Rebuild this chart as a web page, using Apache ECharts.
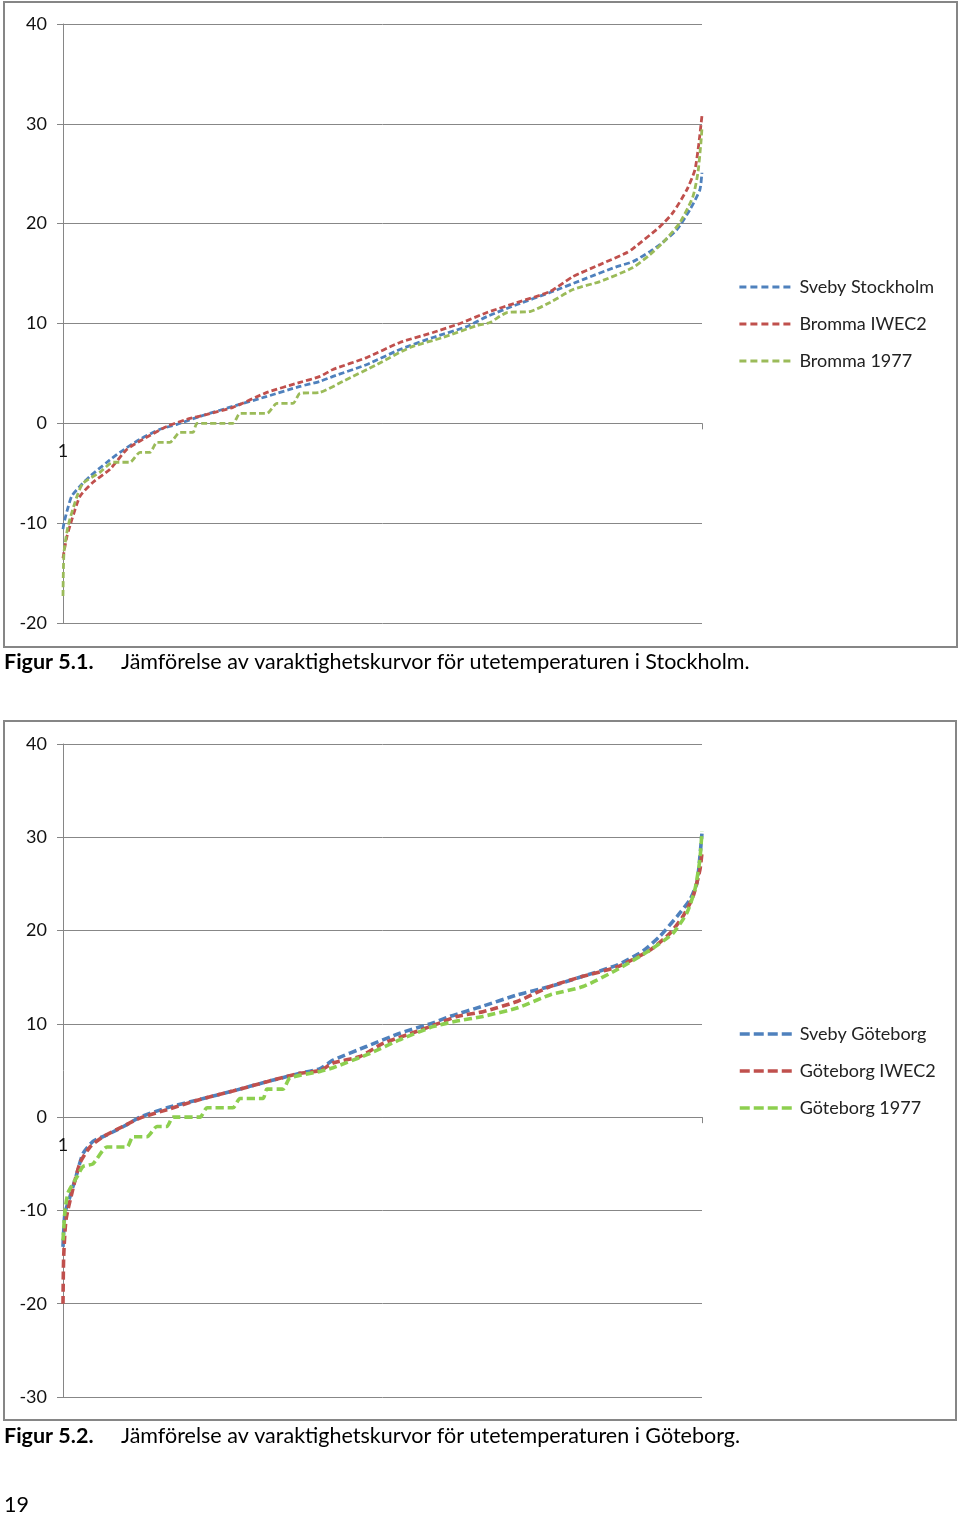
<!DOCTYPE html>
<html>
<head>
<meta charset="utf-8">
<script src="https://cdn.jsdelivr.net/npm/echarts@6/dist/echarts.min.js"></script>
<style>
html,body{margin:0;padding:0;background:#fff;}
#c{width:960px;height:1516px;}
</style>
</head>
<body>
<div id="c"></div>
<script>
// ---- Figur 5.1 Stockholm (hour of year, temperature °C) ----
const svebyStockholmHours = [1,14,52,120,234,371,604,782,1056,1330,1563,1879,2331,2797,3249,3524,3702,4168,4620,5072,5538,5812,6224,6676,7128,7594,7813,8046,8183,8416,8594,8731,8759];
const svebyStockholmTemp  = [-10.6,-10,-8.9,-7.3,-6.3,-5.3,-3.9,-2.9,-1.6,-0.6,-0.1,0.7,1.7,2.7,3.7,4.2,4.7,5.9,7.4,8.6,9.7,10.7,11.9,13.1,14.4,15.7,16.2,17.2,17.9,19.4,21.4,23.4,25.1];

const brommaIwec2Hours = [1,14,56,124,234,412,645,878,1097,1426,1700,1975,2331,2797,3249,3524,3702,4168,4620,5072,5442,5812,6224,6676,6991,7361,7731,7813,8183,8361,8553,8663,8718,8759];
const brommaIwec2Temp  = [-13.5,-12.9,-11.3,-9.6,-7.3,-5.9,-4.6,-2.6,-1.6,-0.3,0.4,0.9,1.6,3.1,4.1,4.7,5.4,6.6,8.1,9.1,10,11.1,12.1,13.2,14.7,15.9,17.1,17.5,19.7,21.1,23.4,25.4,28.1,30.8];

const bromma1977Hours = [1,14,70,193,275,508,686,919,1056,1193,1289,1467,1604,1783,1838,2331,2427,2797,2934,3154,3249,3524,3839,4305,4757,5209,5675,5853,6086,6402,6676,6991,7361,7813,8046,8224,8457,8635,8704,8745,8759];
const bromma1977Temp  = [-17.3,-13,-10.3,-7.3,-6,-4.9,-3.9,-3.9,-2.9,-2.9,-1.9,-1.9,-0.9,-0.9,0,0,1,1,2,2,3,3.1,4.2,5.9,7.6,8.6,9.8,10.1,11.1,11.2,12.1,13.4,14.2,15.6,16.9,18.1,20.1,22.7,25.1,28.1,29.5];

// ---- Figur 5.2 Göteborg ----
const svebyGoteborgHours = [1,28,97,193,275,412,604,878,1056,1426,1879,2331,2797,3249,3524,3702,4168,4620,5072,5305,5757,6224,6676,7128,7594,7950,8183,8416,8594,8690,8731,8759];
const svebyGoteborgTemp  = [-13.9,-10.3,-8.5,-6,-3.9,-2.6,-1.9,-0.8,0,1,1.9,2.8,3.8,4.7,5.2,6.1,7.6,9.0,10.1,10.8,11.9,13.1,14,15.1,16.3,17.8,19.4,21.5,23.3,25.1,27.9,30.4];

const goteborgIwec2Hours = [1,10,42,124,234,371,549,823,1056,1426,1879,2331,2797,3249,3524,3702,4072,4387,4853,5168,5401,5757,6224,6676,7128,7594,8046,8320,8498,8635,8731,8759];
const goteborgIwec2Temp  = [-20,-15,-11,-8.1,-4.9,-3.2,-2.1,-1.0,-0.1,0.8,1.9,2.8,3.8,4.7,5.0,5.8,6.5,7.9,9.2,10.1,10.8,11.3,12.4,14,15.1,16.1,17.9,19.7,21.5,23.6,26.5,28.3];

const goteborg1977Hours = [1,28,70,193,275,412,604,878,960,1152,1289,1426,1509,1879,1975,2331,2427,2742,2797,3016,3112,3524,3702,4168,4620,5072,5401,5757,6224,6676,7128,7594,8046,8361,8553,8663,8731,8759];
const goteborg1977Temp  = [-13.2,-10.1,-8.1,-6.4,-5.3,-5.0,-3.2,-3.2,-2.1,-2.1,-1.0,-1.0,0,0,1,1,2,2,3,3,4.2,4.9,5.3,6.7,8.3,9.7,10.3,10.8,11.7,13.1,14,15.8,17.9,19.7,21.9,24.4,27.6,30.6];

const yTicks1 = {min: -20, max: 40, interval: 10};
const yTicks2 = {min: -30, max: 40, interval: 10};
const xLabelValues = [1];

const BLUE = '#4F81BD', RED = '#C0504D', GREEN1 = '#9BBB59', GREEN2 = '#8DCF4F';
const FONT = 'Lato, "Open Sans", sans-serif';

const G1 = {left: 63, top: 24, width: 639, height: 599};
const G2 = {left: 63, top: 744, width: 639, height: 653};

function zip(h, t){ return h.map((v,i)=>[v, t[i]]); }

function mkSeries(name, h, t, color, idx, width, dash){
  return {
    name: name, type: 'line', xAxisIndex: idx, yAxisIndex: idx,
    data: zip(h, t), showSymbol: false, symbol: 'none', smooth: 0.2,
    lineStyle: {color: color, width: width, type: dash},
    itemStyle: {color: color},
    emphasis: {disabled: true}, animation: false
  };
}

// x axis sits on the 0 line: shift from grid bottom by the zero position on the y scale
function xAx(idx, t, g){
  const zeroShift = (0 - t.min) / (t.max - t.min) * g.height;
  return {
    type: 'value', gridIndex: idx, min: 1, max: 8760,
    offset: -zeroShift,
    splitLine: {show: false},
    axisLine: {show: true, onZero: false, lineStyle: {color: '#868686', width: 1}},
    axisTick: {show: true, customValues: [8760], length: 6, lineStyle: {color: '#868686'}},
    axisLabel: {show: true, customValues: xLabelValues, formatter: function(v){return String(v);}, color: '#111', fontSize: 18, fontFamily: FONT, margin: 19}
  };
}
function yAx(idx, t){
  return {
    type: 'value', gridIndex: idx, min: t.min, max: t.max, interval: t.interval,
    axisLine: {show: true, lineStyle: {color: '#868686', width: 1}},
    axisTick: {show: true, length: 6, lineStyle: {color: '#868686'}},
    splitLine: {show: true, lineStyle: {color: '#878787', width: 1}},
    axisLabel: {color: '#111', fontSize: 18, fontFamily: FONT, margin: 16}
  };
}

function mkLegend(names, top, dash, w){
  return {
    data: names, orient: 'vertical', left: 733, top: top, itemWidth: 55, itemHeight: 10, itemGap: 19,
    itemStyle: {opacity: 0},
    lineStyle: {type: dash, width: w},
    textStyle: {fontSize: 18, fontFamily: FONT, color: '#222'}
  };
}

const chart = echarts.init(document.getElementById('c'), null, {renderer: 'canvas'});
chart.setOption({
  animation: false,
  backgroundColor: '#fff',
  grid: [G1, G2],
  xAxis: [xAx(0, yTicks1, G1), xAx(1, yTicks2, G2)],
  yAxis: [yAx(0, yTicks1), yAx(1, yTicks2)],
  legend: [
    mkLegend(['Sveby Stockholm','Bromma IWEC2','Bromma 1977'], 273, [7,4], 2.8),
    mkLegend(['Sveby Göteborg','Göteborg IWEC2','Göteborg 1977'], 1020, [10,4], 3.5)
  ],
  series: [
    mkSeries('Sveby Stockholm', svebyStockholmHours, svebyStockholmTemp, BLUE, 0, 2.8, [6,3]),
    mkSeries('Bromma IWEC2', brommaIwec2Hours, brommaIwec2Temp, RED, 0, 2.8, [6,3]),
    mkSeries('Bromma 1977', bromma1977Hours, bromma1977Temp, GREEN1, 0, 2.8, [6,3]),
    mkSeries('Sveby Göteborg', svebyGoteborgHours, svebyGoteborgTemp, BLUE, 1, 3.6, [8,4]),
    mkSeries('Göteborg IWEC2', goteborgIwec2Hours, goteborgIwec2Temp, RED, 1, 3.6, [8,4]),
    mkSeries('Göteborg 1977', goteborg1977Hours, goteborg1977Temp, GREEN2, 1, 3.6, [8,4])
  ],
  graphic: [
    {type: 'rect', shape: {x: 4, y: 2, width: 953, height: 645}, style: {fill: 'none', stroke: '#868686', lineWidth: 2}, silent: true, z: -1},
    {type: 'rect', shape: {x: 4, y: 721, width: 952, height: 699}, style: {fill: 'none', stroke: '#868686', lineWidth: 2}, silent: true, z: -1},
    {type: 'text', left: 4, top: 651, style: {text: 'Figur 5.1.', fontSize: 21.5, fontWeight: 'bold', fontFamily: FONT, fill: '#000'}},
    {type: 'text', left: 121, top: 651, style: {text: 'Jämförelse av varaktighetskurvor för utetemperaturen i Stockholm.', fontSize: 21.5, fontFamily: FONT, fill: '#000'}},
    {type: 'text', left: 4, top: 1425, style: {text: 'Figur 5.2.', fontSize: 21.5, fontWeight: 'bold', fontFamily: FONT, fill: '#000'}},
    {type: 'text', left: 121, top: 1425, style: {text: 'Jämförelse av varaktighetskurvor för utetemperaturen i Göteborg.', fontSize: 21.5, fontFamily: FONT, fill: '#000'}},
    {type: 'text', left: 4, top: 1494, style: {text: '19', fontSize: 21.5, fontFamily: FONT, fill: '#000'}}
  ]
});
</script>
</body>
</html>
